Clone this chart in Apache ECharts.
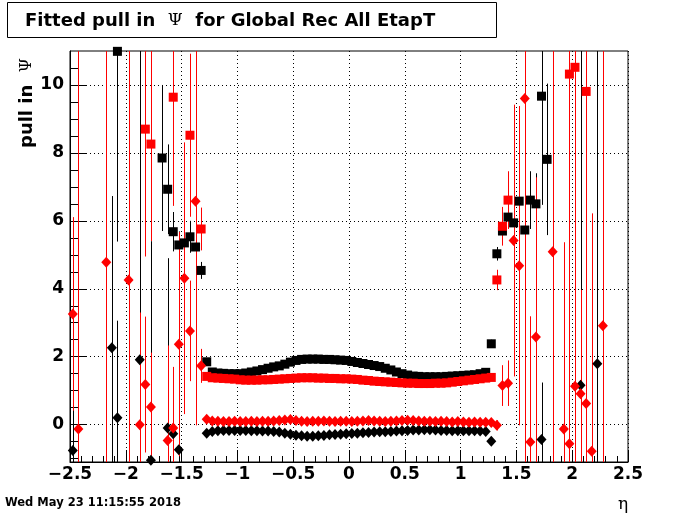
<!DOCTYPE html>
<html><head><meta charset="utf-8">
<script src="https://cdn.jsdelivr.net/npm/echarts@6/dist/echarts.min.js"></script>
<style>html,body{margin:0;padding:0;background:#fff}#c{width:700px;height:514px}</style>
</head><body><div id="c"></div>
<script>
// ---- tick labels ----
const xTickLabels = [-2.5,-2,-1.5,-1,-0.5,0,0.5,1,1.5,2,2.5];
const yMajorTicks = [0,2,4,6,8,10];
const yMinorTicks = [-1,-0.5,0.5,1,1.5,2.5,3,3.5,4.5,5,5.5,6.5,7,7.5,8.5,9,9.5,10.5];

// ---- central eta bins (barrel), one value per bin for each series ----
const centralEta = [-1.275,-1.225,-1.175,-1.125,-1.075,-1.025,-0.975,-0.925,-0.875,-0.825,
  -0.775,-0.725,-0.675,-0.625,-0.575,-0.525,-0.475,-0.425,-0.375,-0.325,
  -0.275,-0.225,-0.175,-0.125,-0.075,-0.025,0.025,0.075,0.125,0.175,
  0.225,0.275,0.325,0.375,0.425,0.475,0.525,0.575,0.625,0.675,
  0.725,0.775,0.825,0.875,0.925,0.975,1.025,1.075,1.125,1.175,1.225];
const blackSqCentral = [1.85,1.55,1.52,1.51,1.50,1.50,1.50,1.52,1.55,1.58,
  1.62,1.66,1.70,1.73,1.78,1.84,1.89,1.92,1.93,1.93,
  1.93,1.92,1.92,1.91,1.90,1.89,1.86,1.83,1.80,1.77,
  1.74,1.71,1.66,1.61,1.55,1.50,1.46,1.43,1.42,1.41,
  1.41,1.41,1.41,1.42,1.43,1.44,1.45,1.46,1.47,1.50,1.54];
const redSqCentral = [1.42,1.38,1.37,1.36,1.35,1.34,1.32,1.31,1.31,1.31,
  1.32,1.32,1.33,1.34,1.35,1.36,1.37,1.38,1.38,1.38,
  1.37,1.37,1.36,1.36,1.35,1.35,1.34,1.33,1.31,1.30,
  1.28,1.27,1.26,1.25,1.24,1.23,1.22,1.22,1.21,1.21,
  1.21,1.22,1.22,1.23,1.25,1.27,1.29,1.31,1.33,1.35,1.37];
const redDiaCentral = [0.16,0.11,0.10,0.09,0.09,0.10,0.09,0.09,0.10,0.09,
  0.10,0.10,0.11,0.12,0.14,0.15,0.12,0.10,0.09,0.10,
  0.10,0.11,0.10,0.09,0.10,0.10,0.09,0.10,0.11,0.12,
  0.11,0.10,0.09,0.10,0.11,0.12,0.13,0.12,0.11,0.10,
  0.10,0.09,0.10,0.09,0.08,0.09,0.08,0.07,0.08,0.07,0.07];
const blackDiaCentral = [-0.25,-0.20,-0.18,-0.17,-0.17,-0.17,-0.17,-0.17,-0.18,-0.18,
  -0.19,-0.19,-0.20,-0.22,-0.25,-0.28,-0.31,-0.33,-0.34,-0.34,
  -0.33,-0.32,-0.30,-0.29,-0.28,-0.27,-0.26,-0.25,-0.24,-0.23,
  -0.22,-0.21,-0.21,-0.20,-0.19,-0.18,-0.17,-0.16,-0.16,-0.15,
  -0.15,-0.16,-0.17,-0.17,-0.18,-0.18,-0.18,-0.18,-0.18,-0.19,-0.20];

// ---- forward bins: [eta, value, error] ----
const blackSqEdge = [
  [-2.075,10.99,5.6],[-1.675,7.85,2.15],[-1.625,6.93,1.32],[-1.575,5.68,0.58],
  [-1.525,5.29,0.4],[-1.475,5.35,0.45],[-1.425,5.53,0.47],[-1.375,5.23,0.4],[-1.325,4.54,0.25],
  [1.275,2.38,0.12],[1.325,5.03,0.2],[1.375,5.70,0.3],[1.425,6.11,0.3],[1.475,5.94,0.3],
  [1.525,6.58,0.4],[1.575,5.73,0.4],[1.625,6.61,0.85],[1.675,6.50,0.9],[1.725,9.67,3.2],[1.775,7.81,2.23]
];
const redSqEdge = [
  [-1.825,8.70,3.75],[-1.775,8.26,2.86],[-1.575,9.64,3.2],[-1.425,8.52,2.4],[-1.325,5.76,0.63],
  [1.275,1.39,0.05],[1.325,4.26,0.3],[1.375,5.84,0.57],[1.425,6.61,0.85],
  [1.975,10.32,12],[2.025,10.52,12],[2.125,9.81,12]
];
const redDiaEdge = [
  [-2.475,3.26,2.85],[-2.425,-0.13,12],[-2.175,4.78,12],[-1.975,4.26,12],[-1.875,0.00,3.3],
  [-1.825,1.18,2.0],[-1.775,0.52,1.6],[-1.625,-0.47,2.8],[-1.575,-0.10,1.8],[-1.525,2.37,3.3],
  [-1.475,4.31,4.0],[-1.425,2.76,1.48],[-1.375,6.58,6.6],[-1.325,1.73,0.5],
  [1.275,0.06,0.05],[1.325,-0.02,0.15],[1.375,1.15,0.6],[1.425,1.22,0.67],[1.475,5.42,4.0],
  [1.525,4.68,4.7],[1.575,9.60,12],[1.625,-0.51,3.7],[1.675,2.58,4.7],[1.825,5.09,12],
  [1.925,-0.13,5.5],[1.975,-0.56,2.9],[2.025,1.13,12],[2.075,0.91,3.06],[2.125,0.62,2.4],
  [2.175,-0.78,7.0],[2.275,2.91,12]
];
const blackDiaEdge = [
  [-2.475,-0.76,1.2],[-2.125,2.26,4.47],[-2.075,0.20,2.86],[-1.875,1.91,12],[-1.775,-1.05,6.45],
  [-1.625,-0.10,5.0],[-1.575,-0.27,0.5],[-1.525,-0.74,0.5],
  [1.275,-0.49,0.1],[1.725,-0.44,1.68],[2.075,1.16,12],[2.225,1.79,12]
];

function buildPoints(edge, central) {
  const pts = edge.map(p => [p[0], p[1], p[2]]);
  centralEta.forEach((e, i) => pts.push([e, central[i], 0]));
  return pts;
}
const blackSq = buildPoints(blackSqEdge, blackSqCentral);
const redSq = buildPoints(redSqEdge, redSqCentral);
const redDia = buildPoints(redDiaEdge, redDiaCentral);
const blackDia = buildPoints(blackDiaEdge, blackDiaCentral);

function errSeries(pts, color) {
  return {
    type: 'custom', clip: true, silent: true, animation: false,
    data: pts.filter(p => p[2] > 0),
    encode: { x: 0, y: 1 },
    renderItem: function (params, api) {
      const x = api.value(0), y = api.value(1), e = api.value(2);
      const a = api.coord([x, y - e]), b = api.coord([x, y + e]);
      const px = Math.round(a[0]) + 0.5;
      return { type: 'line', shape: { x1: px, y1: a[1], x2: px, y2: b[1] },
               style: { stroke: color, lineWidth: 1 } };
    }
  };
}
function markSeries(pts, color, symbol, size) {
  return {
    type: 'scatter', clip: true, silent: true, animation: false,
    data: pts.map(p => [p[0], p[1]]),
    symbol: symbol, symbolSize: size,
    itemStyle: { color: color, opacity: 1 }
  };
}

const FONT = 'DejaVu Sans';
const chart = echarts.init(document.getElementById('c'), null, { renderer: 'canvas' });
chart.setOption({
  animation: false,
  backgroundColor: '#fff',
  grid: { left: 70, right: 72, top: 51, bottom: 52, show: true, borderColor: '#000', borderWidth: 1, backgroundColor: 'transparent' },
  xAxis: {
    type: 'value', min: -2.5, max: 2.5, interval: 0.5,
    axisLine: { show: true, onZero: false, lineStyle: { color: '#000', width: 1 } },
    axisTick: { show: true, inside: true, length: 12, lineStyle: { color: '#000', width: 1 } },
    minorTick: { show: true, splitNumber: 5, length: 6, lineStyle: { color: '#000', width: 1 } },
    axisLabel: { customValues: xTickLabels, formatter: v => String(v).replace('-', '\u2212'),
      fontFamily: FONT, fontWeight: 'bold', fontSize: 17, color: '#000', margin: 4 },
    splitLine: { show: true, lineStyle: { color: '#000', width: 1, type: [1, 3] } }
  },
  yAxis: [{
    type: 'value', min: -1.1, max: 11, position: 'left',
    axisLine: { show: true, onZero: false, lineStyle: { color: '#000', width: 1 } },
    axisTick: { show: true, inside: true, length: 16, customValues: yMajorTicks, lineStyle: { color: '#000', width: 1 } },
    axisLabel: { customValues: yMajorTicks, fontFamily: FONT, fontWeight: 'bold', fontSize: 17, color: '#000', margin: 6 },
    splitLine: { show: true, lineStyle: { color: '#000', width: 1, type: [1, 3] } }
  }, {
    type: 'value', min: -1.1, max: 11, position: 'left', offset: 0,
    axisLine: { show: false, onZero: false },
    axisTick: { show: true, inside: true, length: 8, customValues: yMinorTicks, lineStyle: { color: '#000', width: 1 } },
    axisLabel: { show: false },
    splitLine: { show: false }
  }],
  series: [
    errSeries(blackSq, '#000'), markSeries(blackSq, '#000', 'rect', 9),
    errSeries(redSq, '#ff0000'), markSeries(redSq, '#ff0000', 'rect', 9),
    errSeries(blackDia, '#000'), markSeries(blackDia, '#000', 'diamond', [10, 11]),
    errSeries(redDia, '#ff0000'), markSeries(redDia, '#ff0000', 'diamond', [10, 11])
  ],
  graphic: [
    { type: 'rect', shape: { x: 7.5, y: 2.5, width: 489, height: 35 }, style: { fill: '#fff', stroke: '#000', lineWidth: 1 }, z: 100 },
    { type: 'text', x: 25, y: 21, z: 101, style: {
        text: 'Fitted pull in  {p|\u03A8}  for Global Rec All EtapT',
        fontFamily: FONT, fontWeight: 'bold', fontSize: 18, fill: '#000', verticalAlign: 'middle', align: 'left',
        rich: { p: { fontFamily: 'DejaVu Serif', fontWeight: 'normal', fontSize: 17, fill: '#000' } } } },
    { type: 'text', x: 27, y: 148, rotation: Math.PI / 2, z: 101, style: {
        text: 'pull in  {p|\u03A8}',
        fontFamily: FONT, fontWeight: 'bold', fontSize: 18, fill: '#000', verticalAlign: 'middle', align: 'left',
        rich: { p: { fontFamily: 'DejaVu Serif', fontWeight: 'normal', fontSize: 16, fill: '#000' } } } },
    { type: 'text', x: 623, y: 505, z: 101, style: { text: '\u03B7', fontFamily: 'DejaVu Serif', fontSize: 17, fill: '#000', align: 'center', verticalAlign: 'middle' } },
    { type: 'text', x: 5, y: 503, z: 101, style: { text: 'Wed May 23 11:15:55 2018', fontFamily: FONT, fontWeight: 'bold', fontSize: 11.5, fill: '#000', align: 'left', verticalAlign: 'middle' } }
  ]
});
</script></body></html>
